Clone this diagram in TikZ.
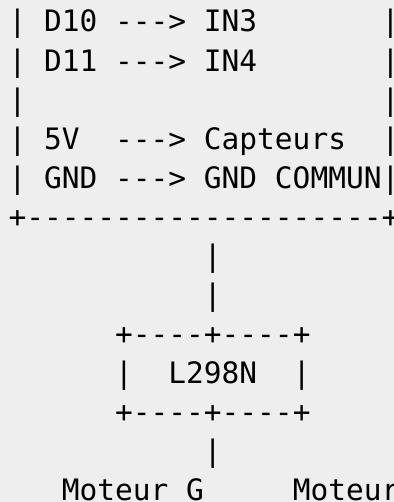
\documentclass[tikz,border=0pt]{standalone}
\usepackage{fontspec}
\setmonofont{DejaVu Sans Mono}
\definecolor{fond}{HTML}{EEEEEE}

\begin{document}
\begin{tikzpicture}[
        x=1pt, y=1pt,
        ligne/.style={anchor=base west, inner sep=0pt, text=black,
            font=\ttfamily\fontsize{14.75pt}{19.5pt}\selectfont}
    ]
        \fill[fond] (0,0) rectangle (197,-251);
        \useasboundingbox (0,0) rectangle (197,-251);

        \node[ligne] (l1) at (4.1,-16) {|~D10~--->~IN3~~~~~~~|};
        \node[ligne] (l2) at ([yshift=-19.52pt]l1.base west) {|~D11~--->~IN4~~~~~~~|};
        \node[ligne] (l3) at ([yshift=-19.52pt]l2.base west) {|~~~~~~~~~~~~~~~~~~~~|};
        \node[ligne] (l4) at ([yshift=-19.52pt]l3.base west) {|~5V~~--->~Capteurs~~|};
        \node[ligne] (l5) at ([yshift=-19.52pt]l4.base west) {|~GND~--->~GND~COMMUN|};
        \node[ligne] (l6) at ([yshift=-19.52pt]l5.base west) {+--------------------+};
        \node[ligne] (l7) at ([yshift=-19.52pt]l6.base west) {~~~~~~~~~~~|};
        \node[ligne] (l8) at ([yshift=-19.52pt]l7.base west) {~~~~~~~~~~~|};
        \node[ligne] (l9) at ([yshift=-19.52pt]l8.base west) {~~~~~~+----+----+};
        \node[ligne] (l10) at ([yshift=-19.52pt]l9.base west) {~~~~~~|~~L298N~~|};
        \node[ligne] (l11) at ([yshift=-19.52pt]l10.base west) {~~~~~~+----+----+};
        \node[ligne] (l12) at ([yshift=-19.52pt]l11.base west) {~~~~~~~~~~~|};
        \node[ligne] (l13) at ([yshift=-19.52pt]l12.base west) {~~~Moteur~G~~~~~Moteur};
    \end{tikzpicture}
\end{document}
